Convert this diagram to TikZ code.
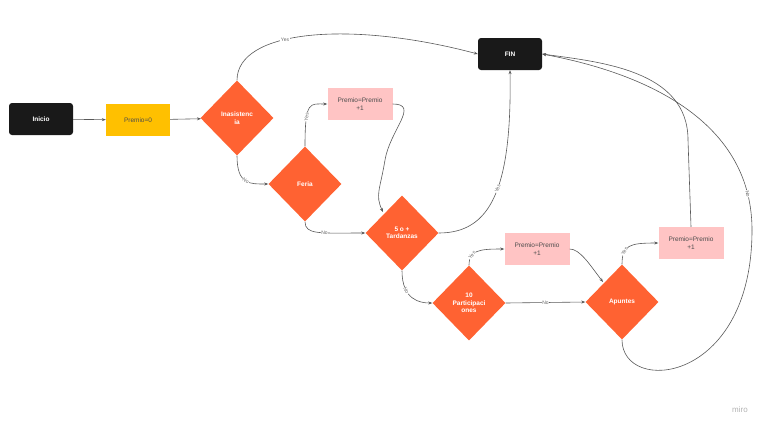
\documentclass[tikz,border=0pt]{standalone}
\usepackage{fontspec}
\setmainfont{Liberation Sans}
\usetikzlibrary{shapes.geometric,arrows.meta}
\begin{document}
\begin{tikzpicture}[x=1pt,y=-1pt,
  term/.style={draw=none,fill=black!90,rounded corners=3pt,minimum width=64pt,minimum height=32pt,text=white,font=\fontsize{6.5}{7.5}\selectfont\bfseries},
  proc/.style={fill={rgb,255:red,255;green,196;blue,196},minimum width=65pt,minimum height=32pt,font=\fontsize{6.5}{7.5}\selectfont,text=black!70,align=center},
  dec/.style={diamond,fill={rgb,255:red,255;green,98;blue,50},text=white,minimum width=73pt,minimum height=75pt,inner sep=0pt,align=center,font=\fontsize{6.5}{7.5}\selectfont\bfseries},
  conn/.style={draw=black!65,line width=0.6pt,-{Stealth[length=4pt]}},
  lbl/.style={fill=white,inner sep=0.5pt,font=\fontsize{5}{6}\selectfont,text=black!60}]
\useasboundingbox (0,0) rectangle (768,432);
\node[term] (ini) at (41,119) {Inicio};
\node[fill={rgb,255:red,255;green,192;blue,0},minimum width=64pt,minimum height=32pt,font=\fontsize{6.5}{7.5}\selectfont,text=black!70] (p0) at (138,120) {Premio=0};
\node[dec] (ina) at (237,118) {Inasistenc\\ia};
\node[dec] (fer) at (305,184) {Feria};
\node[proc] (p1) at (360,104) {Premio=Premio\\+1};
\node[term] (fin) at (510,54) {FIN};
\node[dec] (tar) at (402,233) {5 o +\\Tardanzas};
\node[dec] (par) at (469,303) {10\\Participaci\\ones};
\node[proc] (p2) at (537,249) {Premio=Premio\\+1};
\node[dec] (apu) at (622,302) {Apuntes};
\node[proc] (p3) at (691,243) {Premio=Premio\\+1};
\node[text=black!30,font=\fontsize{8}{9}\selectfont] (miro) at (740,410) {miro};
\coordinate (nb) at (752,230);
\draw[conn] (ini) -- (p0);
\draw[conn] (p0) -- (ina);
\draw[conn] (ina.north) .. controls (237,30) and (350,20) .. node[lbl,pos=0.4]{Yes} (fin.west);
\draw[conn] (ina.south) .. controls (237,185) and (250,184) .. node[lbl,pos=0.5,sloped]{No} (fer.west);
\draw[conn] (fer.north) .. controls (305,100) and (310,104) .. node[lbl,pos=0.3,sloped]{Yes} (p1.west);
\draw[conn] (p1.east) .. controls (420,104) and (390,130) .. (385,160) .. controls (380,190) and (375,195) .. (383,212);
\draw[conn] (fer.south) .. controls (305,235) and (320,233) .. node[lbl,pos=0.6]{No} (tar.west);
\draw[conn] (tar.east) .. controls (490,233) and (512,190) .. node[lbl,pos=0.55,sloped]{Yes} (fin.south);
\draw[conn] (tar.south) .. controls (402,300) and (420,303) .. node[lbl,pos=0.3,sloped]{No} (par.west);
\draw[conn] (par.north) .. controls (469,250) and (480,249) .. node[lbl,pos=0.3,sloped]{Yes} (p2.west);
\draw[conn] (par.east) -- node[lbl]{No} (apu.west);
\draw[conn] (p2.east) .. controls (580,249) and (590,265) .. (603,282);
\draw[conn] (apu.north) .. controls (622,245) and (630,243) .. node[lbl,pos=0.3,sloped]{Yes} (p3.west);
\draw[conn] (p3.north) -- (688,140) .. controls (688,70) and (600,62) .. (fin.east);
\draw[draw=black!65,line width=0.6pt] (apu.south) .. controls (622,395) and (752,385) .. (nb);
\draw[conn] (nb) .. controls (752,100) and (600,65) .. node[lbl,pos=0.1,sloped]{No} (fin.east);
\end{tikzpicture}
\end{document}
